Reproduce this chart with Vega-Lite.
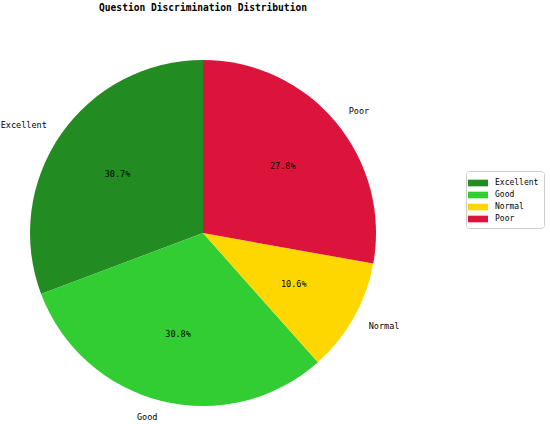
{
  "$schema": "https://vega.github.io/schema/vega-lite/v6.json",
  "width": 406,
  "height": 426,
  "autosize": {"type": "none"},
  "padding": {"top": 20, "left": 0, "right": 144, "bottom": 0},
  "background": "white",
  "title": {
    "text": "Question Discrimination Distribution",
    "font": "DejaVu Sans Mono",
    "fontSize": 9.6,
    "fontWeight": "bold",
    "anchor": "middle",
    "offset": 7,
    "color": "black"
  },
  "config": {"view": {"stroke": null}},
  "data": {
    "values": [
      {"category": "Excellent", "value": 30.7, "pct": "30.7%", "ord": 4},
      {"category": "Good", "value": 30.8, "pct": "30.8%", "ord": 3},
      {"category": "Normal", "value": 10.6, "pct": "10.6%", "ord": 2},
      {"category": "Poor", "value": 27.8, "pct": "27.8%", "ord": 1}
    ]
  },
  "encoding": {
    "theta": {"field": "value", "type": "quantitative", "stack": true},
    "order": {"field": "ord", "type": "quantitative"}
  },
  "layer": [
    {
      "mark": {"type": "arc", "outerRadius": 173},
      "encoding": {
        "color": {
          "field": "category",
          "type": "nominal",
          "sort": ["Excellent", "Good", "Normal", "Poor"],
          "scale": {
            "domain": ["Excellent", "Good", "Normal", "Poor"],
            "range": ["#228B22", "#32CD32", "#FFD700", "#DC143C"]
          },
          "legend": {
            "title": null,
            "orient": "none",
            "legendX": 466,
            "legendY": 151,
            "fillColor": "white",
            "strokeColor": "#cccccc",
            "cornerRadius": 3,
            "padding": 5,
            "symbolType": "M-1.5,-0.5L1.5,-0.5L1.5,0.5L-1.5,0.5Z",
            "symbolSize": 178,
            "symbolStrokeWidth": 0,
            "symbolOpacity": 1,
            "rowPadding": 1,
            "labelFont": "DejaVu Sans Mono",
            "labelFontSize": 8,
            "labelColor": "black",
            "labelOffset": 10
          }
        }
      }
    },
    {
      "mark": {"type": "text", "radius": 104, "font": "DejaVu Sans Mono", "fontSize": 8.5, "color": "black"},
      "encoding": {"text": {"field": "pct"}}
    },
    {
      "mark": {"type": "text", "radius": 190, "align": "right", "baseline": "middle", "font": "DejaVu Sans Mono", "fontSize": 8.5, "color": "black"},
      "encoding": {
        "text": {"condition": {"test": "datum.category == 'Excellent' || datum.category == 'Good'", "field": "category"}, "value": ""}
      }
    },
    {
      "mark": {"type": "text", "radius": 190, "align": "left", "baseline": "middle", "font": "DejaVu Sans Mono", "fontSize": 8.5, "color": "black"},
      "encoding": {
        "text": {"condition": {"test": "datum.category == 'Normal' || datum.category == 'Poor'", "field": "category"}, "value": ""}
      }
    }
  ]
}
